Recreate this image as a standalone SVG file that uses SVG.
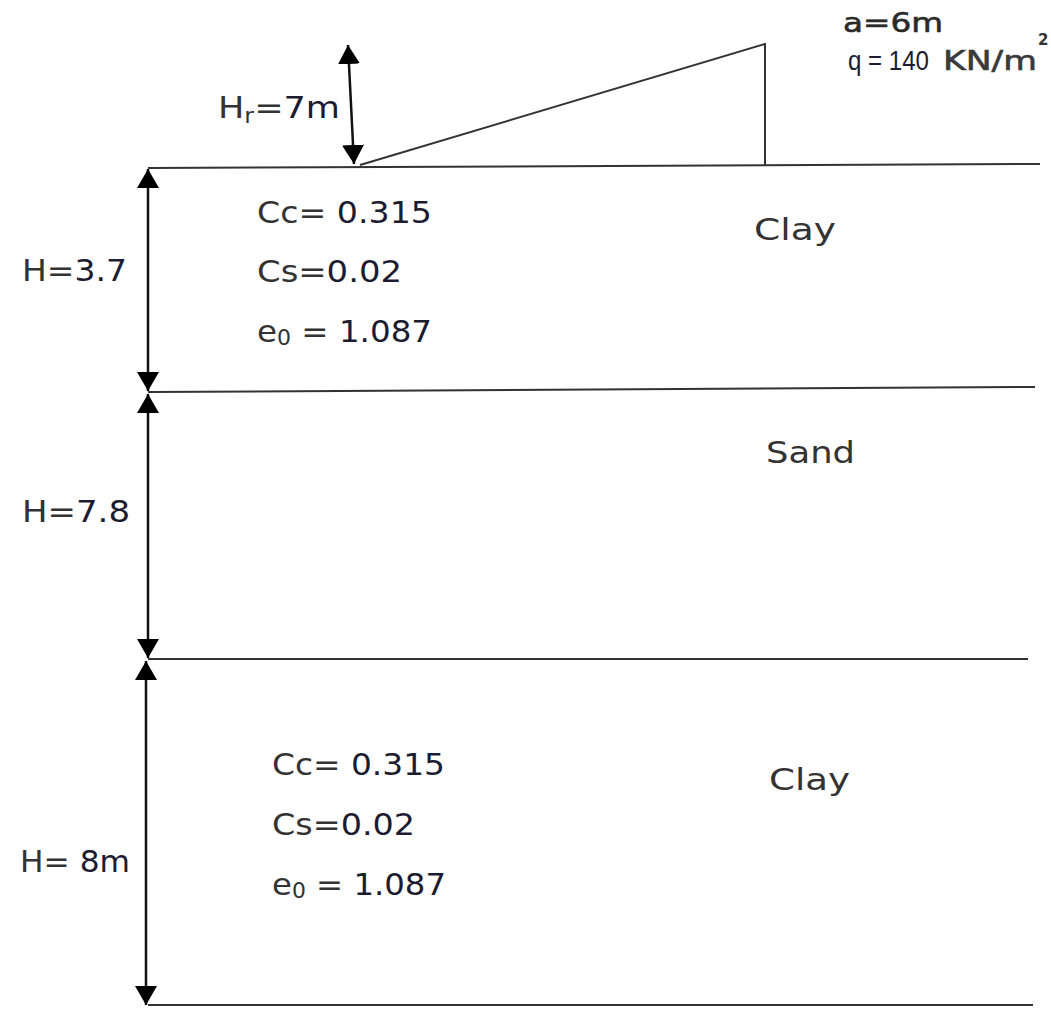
<svg xmlns="http://www.w3.org/2000/svg" width="1051" height="1009" viewBox="0 0 1051 1009">
<defs>
<marker id="ah" viewBox="0 0 10 10" refX="10" refY="5" markerWidth="19" markerHeight="22" orient="auto-start-reverse" markerUnits="userSpaceOnUse" preserveAspectRatio="none">
<path d="M0,0 L10,5 L0,10 z" fill="#000"/>
</marker>
<style>
.ln{stroke:#333;stroke-width:2;fill:none}
.dim{stroke:#111;stroke-width:2.5;fill:none;marker-start:url(#ah);marker-end:url(#ah)}
.t{font-family:"DejaVu Sans",Verdana,sans-serif;fill:#333;font-size:31px}
.n{fill:#1c1c30}
</style>
</defs>
<rect width="1051" height="1009" fill="#fff"/>
<g id="connectors">
<line class="ln" x1="148" y1="168" x2="1040" y2="164"/>
<line class="ln" x1="148" y1="392" x2="1035" y2="387"/>
<line class="ln" x1="148" y1="659" x2="1028" y2="659"/>
<line class="ln" x1="148" y1="1005" x2="1033" y2="1005"/>
<path class="ln" d="M360,165 L765,44 L765,166"/>
<line class="dim" x1="148" y1="169" x2="148" y2="391"/>
<line class="dim" x1="148" y1="394" x2="148" y2="658"/>
<line class="dim" x1="146" y1="661" x2="146" y2="1005"/>
<line class="dim" x1="348" y1="45" x2="354" y2="164"/>
</g>
<g id="load">
<text class="t" x="218" y="118" textLength="122" lengthAdjust="spacingAndGlyphs">H<tspan style="font-size:21px" dy="5">r</tspan><tspan dy="-5">=</tspan><tspan class="n">7m</tspan></text>
<text class="t" x="843" y="32" style="font-size:27px;fill:#2a2a2a;stroke:#2a2a2a;stroke-width:0.6" textLength="100" lengthAdjust="spacingAndGlyphs">a=6m</text>
<text class="t n" x="848" y="70" style="font-family:'Liberation Sans',Arial,sans-serif;font-size:27px" textLength="81" lengthAdjust="spacingAndGlyphs">q = 140</text>
<text class="t" x="943" y="70" style="font-size:27px;fill:#3a3a3a;stroke:#3a3a3a;stroke-width:0.6" textLength="94" lengthAdjust="spacingAndGlyphs">KN/m</text>
<text class="t" x="1038" y="45" style="font-size:15px;font-weight:bold">2</text>
</g>
<g id="layer1">
<text class="t" x="257" y="223" textLength="175" lengthAdjust="spacingAndGlyphs">Cc= <tspan class="n">0.315</tspan></text>
<text class="t" x="257" y="282" textLength="145" lengthAdjust="spacingAndGlyphs">Cs=<tspan class="n">0.02</tspan></text>
<text class="t" x="257" y="342" textLength="175" lengthAdjust="spacingAndGlyphs">e<tspan style="font-size:21px" dy="3">0</tspan><tspan dy="-3"> = </tspan><tspan class="n">1.087</tspan></text>
<text class="t" x="754" y="240" textLength="82" lengthAdjust="spacingAndGlyphs">Clay</text>
<text class="t" x="22" y="281" textLength="105" lengthAdjust="spacingAndGlyphs">H=<tspan class="n">3.7</tspan></text>
</g>
<g id="layer2">
<text class="t" x="766" y="463" textLength="89" lengthAdjust="spacingAndGlyphs">Sand</text>
<text class="t" x="22" y="522" textLength="108" lengthAdjust="spacingAndGlyphs">H=<tspan class="n">7.8</tspan></text>
</g>
<g id="layer3">
<text class="t" x="272" y="775" textLength="173" lengthAdjust="spacingAndGlyphs">Cc= <tspan class="n">0.315</tspan></text>
<text class="t" x="272" y="835" textLength="143" lengthAdjust="spacingAndGlyphs">Cs=<tspan class="n">0.02</tspan></text>
<text class="t" x="272" y="895" textLength="174" lengthAdjust="spacingAndGlyphs">e<tspan style="font-size:21px" dy="3">0</tspan><tspan dy="-3"> = </tspan><tspan class="n">1.087</tspan></text>
<text class="t" x="769" y="790" textLength="81" lengthAdjust="spacingAndGlyphs">Clay</text>
<text class="t" x="20" y="872" textLength="110" lengthAdjust="spacingAndGlyphs">H= <tspan class="n">8m</tspan></text>
</g>
</svg>
